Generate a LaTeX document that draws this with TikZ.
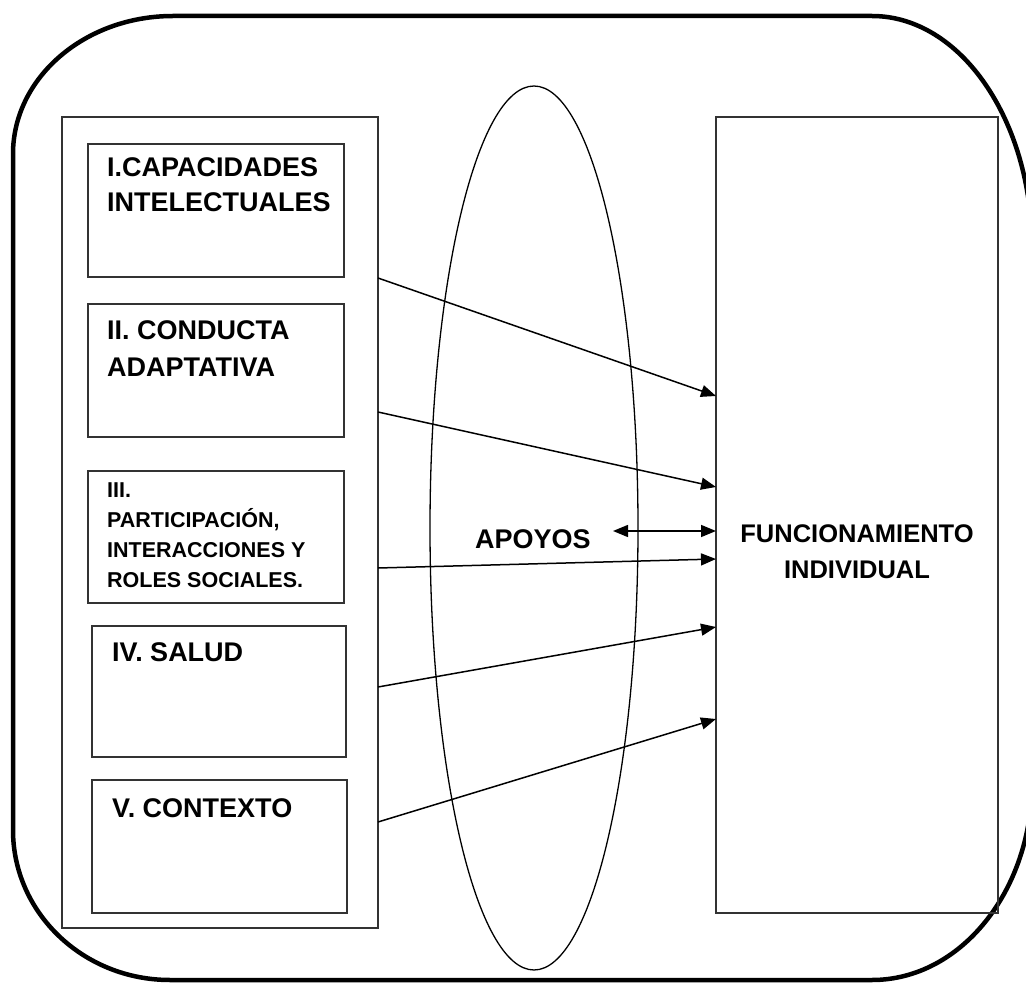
\documentclass[tikz,border=0pt]{standalone}
\usepackage{fontspec}
\setmainfont{Liberation Sans}
\usetikzlibrary{arrows.meta}
\begin{document}
\begin{tikzpicture}[x=1pt,y=-1pt,
  caja/.style={draw=black!80,line width=2pt,inner sep=0pt,outer sep=0pt,anchor=north west},
  rotulo/.style={inner sep=0pt,anchor=base west,align=left,font=\bfseries\fontsize{27}{36}\selectfont},
  flecha/.style={line width=1.5pt,-{Triangle[length=15pt,width=12pt]}},
  dflecha/.style={line width=1.5pt,{Triangle[length=15pt,width=12pt]}-{Triangle[length=15pt,width=12pt]}},
  marco/.style={line width=4.5pt}]
\useasboundingbox (0,0) rectangle (1026,984);
\clip (0,0) rectangle (1026,984);
% outer frame
\draw[marco] (173,16) -- (872,16) arc[start angle=-90,end angle=0,x radius=160,y radius=232]
  -- (1032,782) arc[start angle=0,end angle=90,x radius=160,y radius=198]
  -- (170,980) arc[start angle=90,end angle=180,x radius=157,y radius=150]
  -- (13,154) arc[start angle=180,end angle=270,x radius=160,y radius=138] -- cycle;
\draw[line width=1.3pt] (534,528) ellipse [x radius=104,y radius=442];
% left column
\node[caja,minimum width=316pt,minimum height=811pt] (col) at (62,117) {};
\node[caja,minimum width=256pt,minimum height=133pt] (capac) at (88,144) {};
\node[caja,minimum width=256pt,minimum height=133pt] (conducta) at (88,304) {};
\node[caja,minimum width=256pt,minimum height=132pt] (particip) at (88,471) {};
\node[caja,minimum width=254pt,minimum height=131pt] (salud) at (92,626) {};
\node[caja,minimum width=255pt,minimum height=133pt] (contexto) at (92,780) {};
\node[rotulo,font=\bfseries\fontsize{27}{35}\selectfont] (capac-t) at ([shift={(19,68)}]capac.north west) {I.CAPACIDADES\\INTELECTUALES};
\node[rotulo,font=\bfseries\fontsize{27}{37}\selectfont] (conducta-t) at ([shift={(19,73)}]conducta.north west) {II. CONDUCTA\\ADAPTATIVA};
\node[rotulo,font=\bfseries\fontsize{21.5}{29.7}\selectfont] (particip-t) at ([shift={(19,116)}]particip.north west) {III.\\PARTICIPACIÓN,\\INTERACCIONES Y\\ROLES SOCIALES.};
\node[rotulo] (salud-t) at ([shift={(20,35)}]salud.north west) {IV. SALUD};
\node[rotulo] (contexto-t) at ([shift={(20,37)}]contexto.north west) {V. CONTEXTO};
% right box
\node[caja,minimum width=282pt,minimum height=796pt] (func) at (716,117) {};
\node[rotulo,anchor=base,align=center,font=\bfseries\fontsize{25.5}{36}\selectfont] (func-t) at (857,578) {FUNCIONAMIENTO\\INDIVIDUAL};
\node[rotulo] (apoyos) at (475,548) {APOYOS};
\coordinate (apoyos-tip) at (613,531);
\foreach \a/\b in {278/396,412/487,568/559,687/627,822/719}
  \draw[flecha] (col.east |- 0,\a) -- (func.west |- 0,\b);
\draw[dflecha] (apoyos-tip) -- (func.west |- apoyos-tip);
\end{tikzpicture}
\end{document}
